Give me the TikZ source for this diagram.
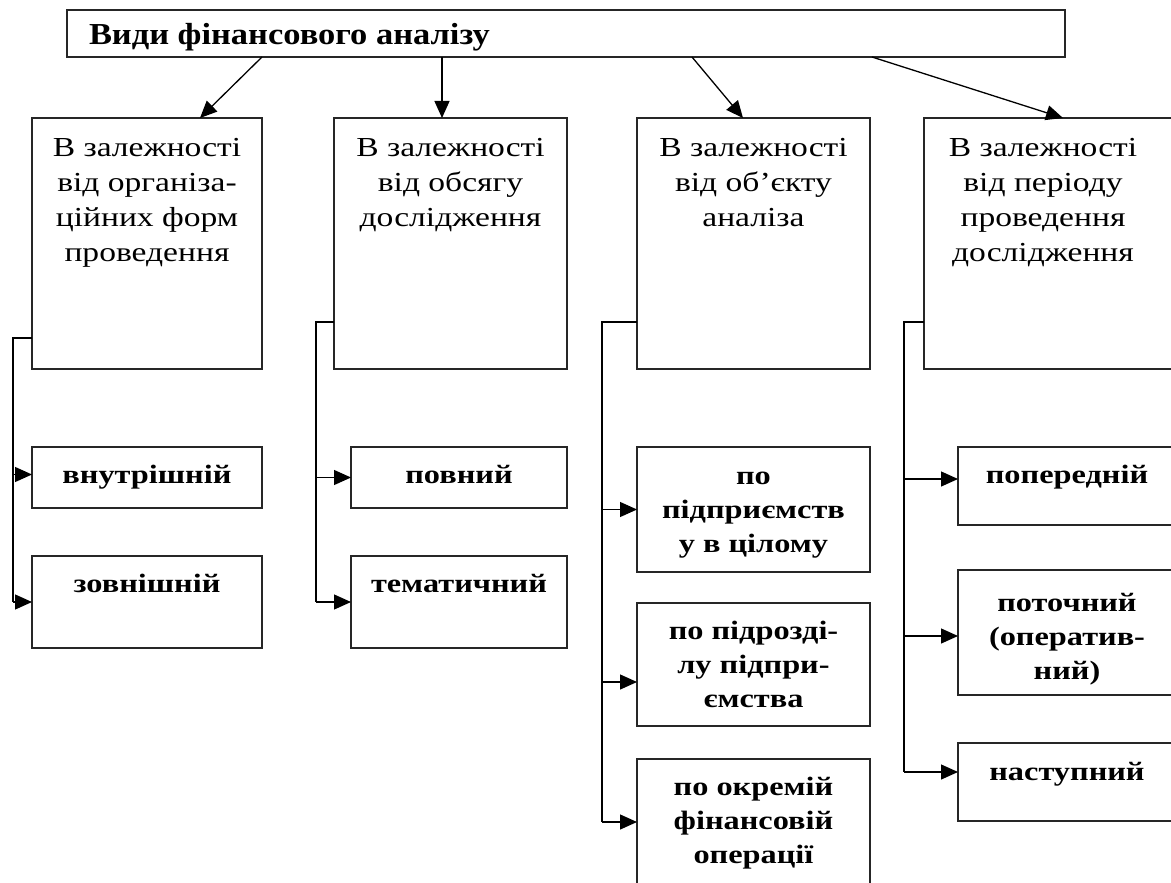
\documentclass[tikz,border=0pt]{standalone}
\usepackage{fontspec}
\setmainfont{Liberation Serif}[FakeStretch=1.22]
\newfontfamily\titlefont{Liberation Serif}[FakeStretch=1.13]
\usetikzlibrary{positioning,arrows.meta}

\begin{document}
\begin{tikzpicture}[x=1pt, y=-1pt,
    every node/.style={inner sep=0pt, outer sep=0pt},
    box/.style={draw=black!85, line width=1.6pt, anchor=north west},
    lbl/.style={align=center, font=\fontsize{27.5}{35}\selectfont},
    sublbl/.style={align=center, font=\fontsize{26.5}{34}\selectfont\bfseries},
    conn/.style={line width=1.3pt},
    arr/.style={conn, -{Triangle[length=17pt, width=15pt]}}]
  \useasboundingbox (0,0) rectangle (1171,883);
  \clip (0,0) rectangle (1171,883);

  % Title
  \node[box, minimum width=998pt, minimum height=47pt] (top) at (67,10) {};
  \node[anchor=base west, font=\titlefont\fontsize{30.5}{34}\selectfont\bfseries] (ttl)
    at ([xshift=22pt, yshift=12pt]top.south west) {Види фінансового аналізу};

  % Criteria
  \node[box, minimum width=230pt, minimum height=251pt] (b1) at (32,118) {};
  \node[box, minimum width=233pt, minimum height=251pt] (b2) at (334,118) {};
  \node[box, minimum width=233pt, minimum height=251pt] (b3) at (637,118) {};
  \node[box, minimum width=260pt, minimum height=251pt] (b4) at (924,118) {};
  \node[lbl, below=14pt of b1.north] (t1) {\strut В залежності\\від організа-\\ційних форм\\проведення};
  \node[lbl, below=14pt of b2.north] (t2) {\strut В залежності\\від обсягу\\дослідження};
  \node[lbl, below=14pt of b3.north] (t3) {\strut В залежності\\від об’єкту\\аналіза};
  \node[lbl, below=14pt of b4.north, xshift=-11pt] (t4) {\strut В залежності\\від періоду\\проведення\\дослідження};

  \draw[arr] ([xshift=195pt]top.south west) -- ([xshift=168pt]b1.north west);
  \draw[arr] ([xshift=375pt]top.south west) -- ([xshift=108pt]b2.north west);
  \draw[arr] ([xshift=625pt]top.south west) -- ([xshift=106pt]b3.north west);
  \draw[arr] ([xshift=805pt]top.south west) -- ([xshift=139pt]b4.north west);

  % Kinds
  \node[box, minimum width=230pt, minimum height=61pt] (c11) at (32,447) {};
  \node[box, minimum width=230pt, minimum height=92pt] (c12) at (32,556) {};
  \node[box, minimum width=216pt, minimum height=61pt] (c21) at (351,447) {};
  \node[box, minimum width=216pt, minimum height=92pt] (c22) at (351,556) {};
  \node[box, minimum width=233pt, minimum height=125pt] (c31) at (637,447) {};
  \node[box, minimum width=233pt, minimum height=123pt] (c32) at (637,603) {};
  \node[box, minimum width=233pt, minimum height=126pt] (c33) at (637,759) {};
  \node[box, minimum width=218pt, minimum height=78pt] (c41) at (958,447) {};
  \node[box, minimum width=218pt, minimum height=125pt] (c42) at (958,570) {};
  \node[box, minimum width=218pt, minimum height=78pt] (c43) at (958,743) {};

  \node[sublbl, below=13pt of c11.north] (u11) {\strut внутрішній};
  \node[sublbl, below=13pt of c12.north] (u12) {\strut зовнішній};
  \node[sublbl, below=13pt of c21.north] (u21) {\strut повний};
  \node[sublbl, below=13pt of c22.north] (u22) {\strut тематичний};
  \node[sublbl, below=14pt of c31.north] (u31) {\strut по\\підприємств\\у в цілому};
  \node[sublbl, below=13pt of c32.north] (u32) {\strut по підрозді-\\лу підпри-\\ємства};
  \node[sublbl, below=13pt of c33.north] (u33) {\strut по окремій\\фінансовій\\операції};
  \node[sublbl, below=13pt of c41.north] (u41) {\strut попередній};
  \node[sublbl, below=18pt of c42.north] (u42) {\strut поточний\\(оператив-\\ний)};
  \node[sublbl, below=14pt of c43.north] (u43) {\strut наступний};

  % Branches
  \coordinate (s1) at (13,338);
  \coordinate (s2) at (316,322);
  \coordinate (s3) at (602,322);
  \coordinate (s4) at (904,322);
  \coordinate (a11) at ([yshift=3pt]c11.west);
  \coordinate (a32) at ([yshift=-17.5pt]c32.west);
  \coordinate (a41) at ([yshift=7pt]c41.west);
  \coordinate (a42) at ([yshift=-3.5pt]c42.west);
  \coordinate (a43) at ([yshift=10pt]c43.west);

  \draw[conn] (b1.west |- s1) -- (s1) -- (s1 |- c12.west);
  \draw[arr] (s1 |- a11) -- (a11);
  \draw[arr] (s1 |- c12.west) -- (c12.west);

  \draw[conn] (b2.west |- s2) -- (s2) -- (s2 |- c22.west);
  \draw[arr] (s2 |- c21.west) -- (c21.west);
  \draw[arr] (s2 |- c22.west) -- (c22.west);

  \draw[conn] (b3.west |- s3) -- (s3) -- (s3 |- c33.west);
  \draw[arr] (s3 |- c31.west) -- (c31.west);
  \draw[arr] (s3 |- a32) -- (a32);
  \draw[arr] (s3 |- c33.west) -- (c33.west);

  \draw[conn] (b4.west |- s4) -- (s4) -- (s4 |- a43);
  \draw[arr] (s4 |- a41) -- (a41);
  \draw[arr] (s4 |- a42) -- (a42);
  \draw[arr] (s4 |- a43) -- (a43);
\end{tikzpicture}
\end{document}
